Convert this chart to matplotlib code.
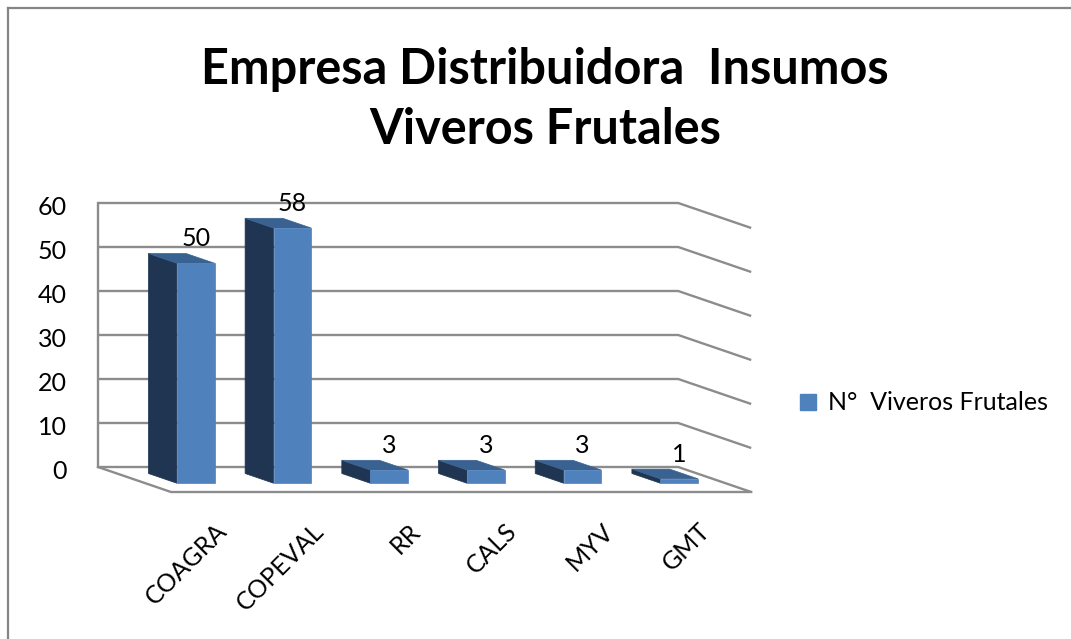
import matplotlib
matplotlib.use('Agg')
import matplotlib.pyplot as plt
from matplotlib.patches import Polygon, Rectangle, Patch
from matplotlib.lines import Line2D

# ---- data ----
categories = ['COAGRA', 'COPEVAL', 'RR', 'CALS', 'MYV', 'GMT']
values = [50, 58, 3, 3, 3, 1]
yticks = [0, 10, 20, 30, 40, 50, 60]
title_lines = ['Empresa Distribuidora  Insumos', 'Viveros Frutales']
series_name = 'N°  Viveros Frutales'

# ---- styles ----
FRONT = '#4F81BD'
SIDE = '#1F3552'
TOP = '#3A6291'
GRID = '#8C8C8C'
FONT = 'Lato'
FS = 18

W, H = 1071, 639
fig = plt.figure(figsize=(W / 100, H / 100), dpi=100)
ax = fig.add_axes([0, 0, 1, 1])

# projection scale (pixels per category unit / per value unit), origin of back wall
CU, VU, X0, Y0 = 96.7, 4.4, 98, 467
ax.set_xlim(-X0 / CU, (W - X0) / CU)
ax.set_ylim(-(H - Y0) / VU, Y0 / VU)
ax.axis('off')

DX, DY = 73 / CU, 25 / VU          # full floor depth offset
n = len(categories)
vmax = max(yticks)

# back wall gridlines + right side wall lines
for v in yticks:
    ax.plot([0, n, n + DX], [v, v, v - DY], color=GRID, lw=1.7,
            solid_capstyle='butt', zorder=1)
ax.plot([0, 0], [0, vmax], color=GRID, lw=1.7, zorder=1)
# floor outline
ax.plot([0, DX, n + DX], [0, -DY, -DY], color=GRID, lw=1.7, zorder=1)

# bars
w = 0.39
db, df = 0.26, 0.65
for i, (cat, v) in enumerate(zip(categories, values)):
    cx = i + 0.52
    xl, xr = cx - w / 2, cx + w / 2
    side = Polygon([(xl + db * DX, -db * DY), (xl + df * DX, -df * DY),
                    (xl + df * DX, v - df * DY), (xl + db * DX, v - db * DY)],
                   closed=True, facecolor=SIDE, edgecolor=SIDE, lw=0.5, zorder=3)
    top = Polygon([(xl + db * DX, v - db * DY), (xr + db * DX, v - db * DY),
                   (xr + df * DX, v - df * DY), (xl + df * DX, v - df * DY)],
                  closed=True, facecolor=TOP, edgecolor=TOP, lw=0.5, zorder=3)
    front = Rectangle((xl + df * DX, -df * DY), w, v,
                      facecolor=FRONT, edgecolor=FRONT, lw=0.5, zorder=4)
    ax.add_patch(side)
    ax.add_patch(top)
    ax.add_patch(front)
    ax.text(cx + df * DX, v - df * DY + 5.6, f'{v}', ha='center', va='center',
            fontsize=FS, family=FONT, color='black', zorder=5)
    ax.text(cx + DX + 0.02, -DY - 8.0, cat, rotation=45, rotation_mode='anchor',
            ha='right', va='center', fontsize=FS, family=FONT, color='black')

# y tick labels
for v in yticks:
    ax.text(-0.32, v - 1.0, f'{v}', ha='right', va='center', fontsize=FS,
            family=FONT, color='black')

# title
fig.text(545 / W, 1 - 84 / H, title_lines[0], ha='center', va='baseline',
         fontsize=35, family=FONT, fontweight='bold')
fig.text(545 / W, 1 - 144 / H, title_lines[1], ha='center', va='baseline',
         fontsize=35, family=FONT, fontweight='bold')

# legend
leg = fig.legend(handles=[Patch(facecolor=FRONT, edgecolor=FRONT, label=series_name)],
                 loc='center left', bbox_to_anchor=(800 / W, 1 - 403 / H),
                 frameon=False, handlelength=0.62, handleheight=0.62,
                 handletextpad=0.5, borderpad=0, borderaxespad=0,
                 prop={'family': FONT, 'size': FS})

# chart-area border (left and top edges visible)
fig.add_artist(Line2D([8 / W, 8 / W], [0, 1 - 8 / H], transform=fig.transFigure,
                      color='#858585', lw=1.6))
fig.add_artist(Line2D([8 / W, 1], [1 - 8 / H, 1 - 8 / H], transform=fig.transFigure,
                      color='#858585', lw=1.6))

fig.savefig('out.png', dpi=100, facecolor='white')
